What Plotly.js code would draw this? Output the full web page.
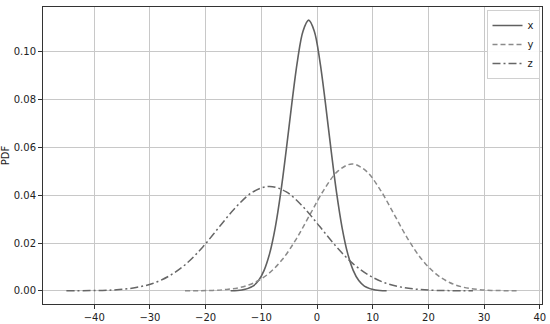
<!DOCTYPE html>
<html>
<head>
<meta charset="utf-8">
<script src="https://cdn.plot.ly/plotly-3.0.1.min.js"></script>
<style>
  html, body { margin: 0; padding: 0; background: #fff; }
  #chart { width: 550px; height: 324px; }
</style>
</head>
<body>
<div id="chart"></div>
<script>
// Values
const xCurveX = [-15.5, -13.5, -11.5, -10.5, -9.5, -8.5, -7.5, -6.5, -5.5, -4.5, -3.5, -2.5, -1.5,
                 -0.5, 0.5, 1.5, 2.5, 3.5, 4.5, 5.5, 6.5, 7.5, 8.5, 10.5, 12.5];
const xCurveY = [0.00004, 0.00034, 0.0020, 0.0043, 0.0086, 0.0157, 0.0265, 0.0413, 0.0594, 0.0788, 0.0964, 0.1088, 0.1133,
                 0.1088, 0.0964, 0.0788, 0.0594, 0.0413, 0.0265, 0.0157, 0.0086, 0.0043, 0.0020, 0.00034, 0.00004];

const yCurveX = [-23.7, -18.7, -16.2, -13.7, -11.2, -8.7, -6.2, -3.7, -1.2, 1.3, 3.8, 6.3,
                 8.8, 11.3, 13.8, 16.3, 18.8, 21.3, 23.8, 26.3, 28.8, 31.3, 36.3];
const yCurveY = [0.00002, 0.0002, 0.0006, 0.0015, 0.0035, 0.0072, 0.0132, 0.0218, 0.0322, 0.0425, 0.0502, 0.0531,
                 0.0502, 0.0425, 0.0322, 0.0218, 0.0132, 0.0072, 0.0035, 0.0015, 0.0006, 0.0002, 0.00002];

const zCurveX = [-45, -38.5, -35.5, -32.5, -29.5, -26.5, -23.5, -20.5, -17.5, -14.5, -11.5, -8.5,
                 -5.5, -2.5, 0.5, 3.5, 6.5, 9.5, 12.5, 15.5, 18.5, 21.5, 28];
const zCurveY = [0.00001, 0.0002, 0.00055, 0.0014, 0.0031, 0.0063, 0.0113, 0.0184, 0.0269, 0.0352, 0.0414, 0.0437,
                 0.0414, 0.0352, 0.0269, 0.0184, 0.0113, 0.0063, 0.0031, 0.0014, 0.00055, 0.0002, 0.00001];

const traces = [
    {
        type: "scatter", mode: "lines", name: "x",
        x: xCurveX, y: xCurveY,
        line: {color: "#606060", width: 1.6, shape: "spline", smoothing: 1}
    },
    {
        type: "scatter", mode: "lines", name: "y",
        x: yCurveX, y: yCurveY,
        line: {color: "#8a8a8a", width: 1.5, dash: "5px,3px", shape: "spline", smoothing: 1}
    },
    {
        type: "scatter", mode: "lines", name: "z",
        x: zCurveX, y: zCurveY,
        line: {color: "#666666", width: 1.5, dash: "8px,3px,2px,3px", shape: "spline", smoothing: 1}
    }
];

Plotly.newPlot("chart", traces, {
    width: 550,
    height: 324,
    margin: {l: 43, r: 8, t: 7, b: 20},
    paper_bgcolor: "#fff",
    plot_bgcolor: "#fff",
    font: {family: "DejaVu Sans", size: 10, color: "#222"},
    showlegend: true,
    legend: {
        x: 0.995, y: 0.99, xanchor: "right", yanchor: "top",
        bgcolor: "rgba(255,255,255,0.9)",
        bordercolor: "#d0d0d0", borderwidth: 1,
        font: {size: 10},
        itemwidth: 30,
        tracegroupgap: 0
    },
    xaxis: {
        range: [-49.2, 40.4],
        dtick: 10, tick0: 0,
        showgrid: true, gridcolor: "#c8c8c8", gridwidth: 1,
        zeroline: false,
        showline: true, linecolor: "#333", linewidth: 1, mirror: true,
        ticks: "outside", ticklen: 4, tickcolor: "#333"
    },
    yaxis: {
        range: [-0.0055, 0.1188],
        dtick: 0.02, tick0: 0,
        tickformat: ".2f",
        showgrid: true, gridcolor: "#c8c8c8", gridwidth: 1,
        zeroline: false,
        showline: true, linecolor: "#333", linewidth: 1, mirror: true,
        ticks: "outside", ticklen: 4, tickcolor: "#333",
        title: {text: "PDF", font: {size: 10}, standoff: 6}
    }
}, {displayModeBar: false});
</script>
</body>
</html>
